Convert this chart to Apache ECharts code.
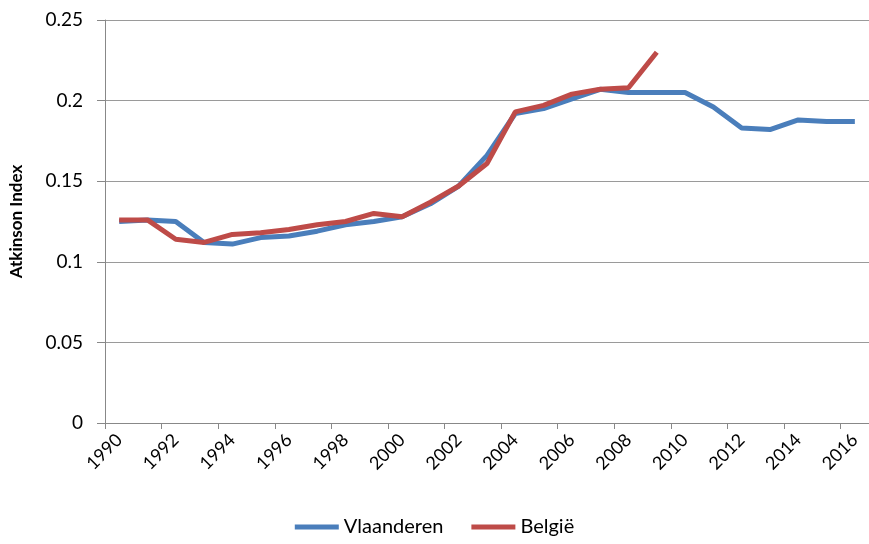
<!DOCTYPE html>
<html>
<head>
<meta charset="utf-8">
<script src="https://cdn.jsdelivr.net/npm/echarts@6/dist/echarts.min.js"></script>
<style>
  html, body { margin: 0; padding: 0; background: #fff; }
  #chart { width: 869px; height: 544px; }
</style>
</head>
<body>
<div id="chart"></div>
<script>
const years = [];
for (let y = 1990; y <= 2016; y++) years.push(String(y));

// values
const vlaanderen = [0.125, 0.126, 0.125, 0.112, 0.111, 0.115, 0.116, 0.119, 0.123, 0.125,
  0.128, 0.136, 0.147, 0.166, 0.192, 0.195, 0.201, 0.207, 0.205, 0.205,
  0.205, 0.196, 0.183, 0.182, 0.188, 0.187, 0.187];
const belgie = [0.126, 0.126, 0.114, 0.112, 0.117, 0.118, 0.120, 0.123, 0.125, 0.130,
  0.128, 0.137, 0.147, 0.161, 0.193, 0.197, 0.204, 0.207, 0.208, 0.230];

const font = 'Lato, "Open Sans", sans-serif';
const chart = echarts.init(document.getElementById('chart'));

chart.setOption({
  animation: false,
  textStyle: { fontFamily: font },
  grid: { left: 103, top: 20, width: 772, height: 403, containLabel: false },
  legend: {
    bottom: 2,
    left: 'center',
    itemWidth: 44,
    itemHeight: 5,
    itemGap: 28,
    icon: 'rect',
    textStyle: { fontSize: 20, color: '#000', fontFamily: font },
    data: ['Vlaanderen', 'België']
  },
  xAxis: {
    type: 'category',
    data: years,
    boundaryGap: true,
    axisLine: { lineStyle: { color: '#888', width: 1 } },
    axisTick: { show: true, length: 6, lineStyle: { color: '#888' } },
    axisLabel: { interval: 1, rotate: 45, margin: 14, fontSize: 18, color: '#000' }
  },
  yAxis: {
    type: 'value',
    min: 0,
    max: 0.25,
    interval: 0.05,
    name: 'Atkinson Index',
    nameLocation: 'middle',
    nameGap: 80,
    nameTextStyle: { fontSize: 17, fontWeight: 'bold', color: '#000' },
    axisLine: { show: true, lineStyle: { color: '#888' } },
    axisTick: { show: true, length: 8, lineStyle: { color: '#888' } },
    axisLabel: { margin: 22, fontSize: 19, color: '#000', formatter: v => String(+v.toFixed(2)) },
    splitLine: { lineStyle: { color: '#9a9a9a', width: 1 } }
  },
  series: [
    {
      name: 'Vlaanderen',
      type: 'line',
      data: vlaanderen,
      symbol: 'none',
      color: '#4a7ebb',
      lineStyle: { width: 5, color: '#4a7ebb' }
    },
    {
      name: 'België',
      type: 'line',
      data: belgie,
      symbol: 'none',
      color: '#be4b48',
      lineStyle: { width: 5, color: '#be4b48' }
    }
  ]
});
</script>
</body>
</html>
